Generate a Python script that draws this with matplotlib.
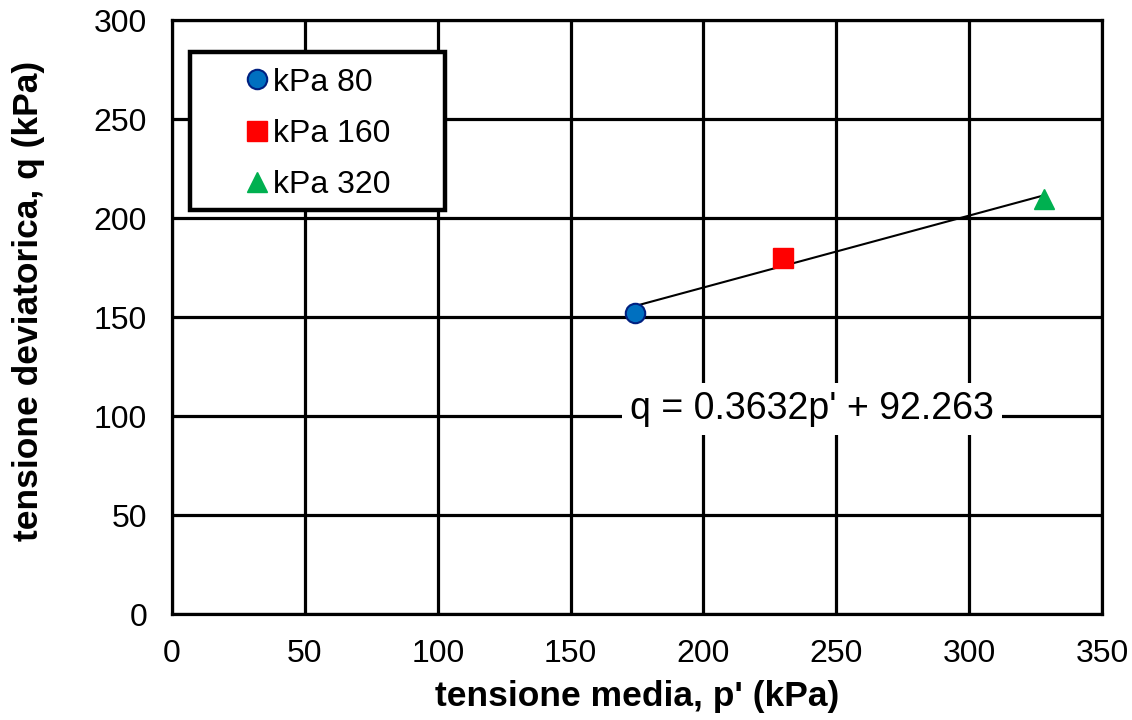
import matplotlib
matplotlib.use("Agg")
import matplotlib.pyplot as plt
from matplotlib.patches import Rectangle
import numpy as np

plt.rcParams['font.family'] = ['Liberation Sans', 'DejaVu Sans']

labels = ["kPa 80", "kPa 160", "kPa 320"]
p_vals = [174.3, 230.0, 328.2]
q_vals = [152.0, 180.0, 209.5]
slope = 0.3632
intercept = 92.263
eq_text = "q = 0.3632p' + 92.263"
x_ticks = [0, 50, 100, 150, 200, 250, 300, 350]
y_ticks = [0, 50, 100, 150, 200, 250, 300]

fig = plt.figure(figsize=(11.32, 7.2), dpi=100)
ax = fig.add_axes([0.152, 0.1472, 0.8215, 0.825])

ax.set_xlim(0, 350)
ax.set_ylim(0, 300)
ax.set_xticks(x_ticks)
ax.set_yticks(y_ticks)
ax.grid(True, color='black', linewidth=2.3)
ax.set_axisbelow(True)
for s in ax.spines.values():
    s.set_linewidth(2.3)
ax.tick_params(length=0, labelsize=23, pad=18)

# trendline
xl = np.array([min(p_vals), max(p_vals)])
ax.plot(xl, slope * xl + intercept, color='black', linewidth=1.5, zorder=3)

styles = [
    dict(marker='o', color='#0070C0', mec='#002080', ms=14, mew=1.5),
    dict(marker='s', color='#FF0000', mec='#FF0000', ms=14.5, mew=1),
    dict(marker='^', color='#00B050', mec='#00B050', ms=14.5, mew=1),
]
for lab, p, q, st in zip(labels, p_vals, q_vals, styles):
    ax.plot([p], [q], linestyle='none', marker=st['marker'], markerfacecolor=st['color'],
            markeredgecolor=st['mec'], markersize=st['ms'], markeredgewidth=st['mew'],
            label=lab, zorder=4)

ax.text(240.9, 103.5, eq_text, fontsize=27, ha='center', va='center',
        bbox=dict(facecolor='white', edgecolor='none', pad=6), zorder=5)

# legend frame
frame = Rectangle((0.0194, 0.680), 0.2741, 0.266, transform=ax.transAxes,
                  facecolor='white', edgecolor='black', linewidth=3.2, zorder=6)
ax.add_patch(frame)
leg = ax.legend(loc='upper left', bbox_to_anchor=(0.0742, 0.920), borderaxespad=0,
                fontsize=23, frameon=False, handletextpad=0.0,
                handlelength=1.0, labelspacing=0.67, borderpad=0)
leg.set_zorder(7)

ax.set_xlabel("tensione media, p' (kPa)", fontsize=25.5, fontweight='bold', labelpad=8)
ax.set_ylabel("tensione deviatorica, q (kPa)", fontsize=25.5, fontweight='bold')
ax.yaxis.set_label_coords(-0.1366, 0.527)

fig.savefig("out.png", dpi=100)
